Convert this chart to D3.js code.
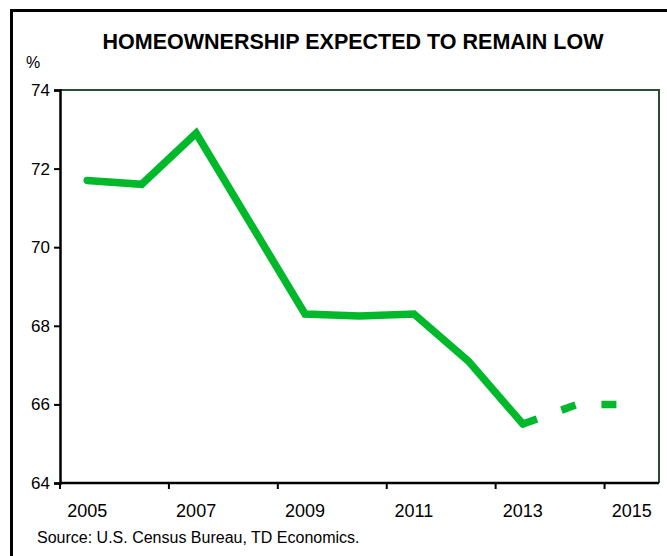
<!DOCTYPE html>
<html>
<head>
<meta charset="utf-8">
<script src="https://cdn.jsdelivr.net/npm/d3@7"></script>
<style>
  body { margin: 0; background: #fff; }
  svg { font-family: Arial, "Liberation Sans", sans-serif; display: block; }
</style>
</head>
<body>
<div id="chart"></div>
<script>
// values
const years = [2005, 2006, 2007, 2008, 2009, 2010, 2011, 2012, 2013, 2014, 2015];
const actualYears = [2005, 2006, 2007, 2008, 2009, 2010, 2011, 2012, 2013];
const actualValues = [71.7, 71.6, 72.9, 70.6, 68.3, 68.25, 68.3, 67.1, 65.5];
const forecastYears = [2013, 2014, 2015];
const forecastValues = [65.5, 66.0, 66.0];
const yTicks = [64, 66, 68, 70, 72, 74];
const xLabels = [2005, 2007, 2009, 2011, 2013, 2015];

const width = 667, height = 556;
const margin = {top: 90, right: 8, bottom: 73, left: 60};
const green = '#00b92a';

const svg = d3.select('#chart').append('svg')
    .attr('width', width)
    .attr('height', height);

// outer frame (only left and top edges show in the crop)
svg.append('path')
    .attr('d', `M11.5,${height} V10.5 H${width}`)
    .attr('fill', 'none')
    .attr('stroke', '#000')
    .attr('stroke-width', 3);

const x = d3.scaleBand()
    .domain(years)
    .range([margin.left, width - margin.right]);

const y = d3.scaleLinear()
    .domain([64, 74])
    .range([height - margin.bottom, margin.top]);

const cx = d => x(d) + x.bandwidth() / 2;

// title
svg.append('text')
    .attr('x', 353)
    .attr('y', 49)
    .attr('text-anchor', 'middle')
    .attr('font-size', 21.5)
    .attr('font-weight', 'bold')
    .text('HOMEOWNERSHIP EXPECTED TO REMAIN LOW');

svg.append('text')
    .attr('x', 26)
    .attr('y', 68)
    .attr('font-size', 16)
    .text('%');

// top and right plot border
svg.append('path')
    .attr('d', `M${margin.left},${y(74)} H${width - margin.right} V${y(64)}`)
    .attr('fill', 'none')
    .attr('stroke', '#2a4d35')
    .attr('stroke-width', 2);

// y axis
const yAxis = svg.append('g')
    .attr('transform', `translate(${margin.left},0)`)
    .call(d3.axisLeft(y).tickValues(yTicks).tickSize(6).tickPadding(4).tickFormat(d3.format('d')));

// x axis: ticks on category boundaries every two years, labels on band centres
const xAxis = svg.append('g')
    .attr('transform', `translate(0,${y(64)})`);

xAxis.append('line')
    .attr('x1', margin.left)
    .attr('x2', width - margin.right)
    .attr('stroke', '#000')
    .attr('stroke-width', 2.5);

xAxis.selectAll('.xtick')
    .data(xLabels)
    .join('line')
    .attr('class', 'xtick')
    .attr('x1', d => x(d))
    .attr('x2', d => x(d))
    .attr('y1', 0)
    .attr('y2', 6)
    .attr('stroke', '#000')
    .attr('stroke-width', 2);

xAxis.selectAll('.xlabel')
    .data(xLabels)
    .join('text')
    .attr('class', 'xlabel')
    .attr('x', d => cx(d))
    .attr('y', 34)
    .attr('text-anchor', 'middle')
    .attr('font-size', 18)
    .text(d => d);

yAxis.select('.domain').attr('stroke-width', 2.5);
yAxis.selectAll('.tick line').attr('stroke-width', 2);
yAxis.selectAll('.tick text')
    .attr('font-size', 17)
    .attr('font-family', 'Arial, "Liberation Sans", sans-serif')
    .attr('fill', '#000');

const line = d3.line()
    .x(d => cx(d[0]))
    .y(d => y(d[1]));

svg.append('path')
    .datum(d3.zip(actualYears, actualValues))
    .attr('d', line)
    .attr('fill', 'none')
    .attr('stroke', green)
    .attr('stroke-width', 7.5)
    .attr('stroke-linejoin', 'miter')
    .attr('stroke-linecap', 'round');

svg.append('path')
    .datum(d3.zip(forecastYears, forecastValues))
    .attr('d', line)
    .attr('fill', 'none')
    .attr('stroke', green)
    .attr('stroke-width', 7.5)
    .attr('stroke-dasharray', '15,26');

svg.append('text')
    .attr('x', 37)
    .attr('y', 543)
    .attr('font-size', 16)
    .text('Source: U.S. Census Bureau, TD Economics.');
</script>
</body>
</html>
